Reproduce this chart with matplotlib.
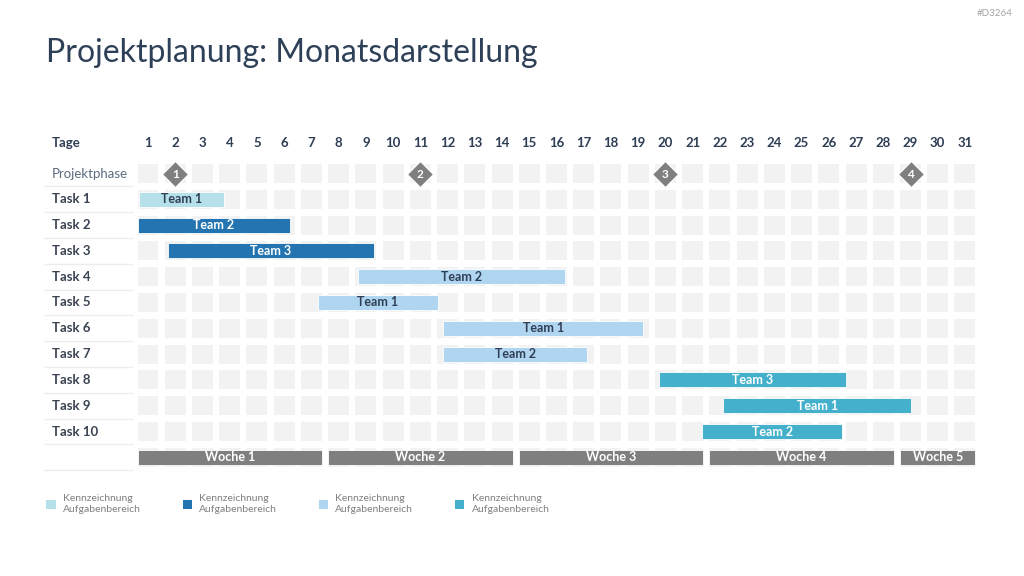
import matplotlib
matplotlib.use("Agg")
import matplotlib.pyplot as plt
from matplotlib.patches import Patch

plt.rcParams['font.family'] = ['Lato', 'DejaVu Sans']

# ---------------- data ----------------
days = list(range(1, 32))
task_labels = ["Task 1", "Task 2", "Task 3", "Task 4", "Task 5",
               "Task 6", "Task 7", "Task 8", "Task 9", "Task 10"]
task_teams = ["Team 1", "Team 2", "Team 3", "Team 2", "Team 1",
              "Team 1", "Team 2", "Team 3", "Team 1", "Team 2"]
task_start = [0.67, 0.63, 1.72, 8.72, 7.23, 11.85, 11.85, 19.75, 22.13, 21.36]
task_end = [3.79, 6.21, 9.30, 16.31, 11.66, 19.19, 17.11, 26.62, 29.02, 26.50]
task_group = [0, 1, 1, 2, 2, 2, 2, 3, 3, 3]
group_colors = ["#B6E1EA", "#2374B0", "#AFD5F0", "#45B0CB"]
group_text = ["#2E3E55", "white", "#2E3E55", "white"]

phase_days = [2, 11, 20, 29]
phase_labels = ["1", "2", "3", "4"]

week_labels = ["Woche 1", "Woche 2", "Woche 3", "Woche 4", "Woche 5"]
week_first_day = [1, 8, 15, 22, 29]
week_last_day = [7, 14, 21, 28, 31]

legend_labels = ["Kennzeichnung\nAufgabenbereich"] * 4

# ---------------- layout ----------------
W, H = 1024, 576
fig = plt.figure(figsize=(W / 100, H / 100), dpi=100)

px_per_day = 27.233
row_px = 25.8
ax_left_px, ax_right_px = 44, 980
ax_top_px, ax_bot_px = 130, 475
ax = fig.add_axes([ax_left_px / W, 1 - ax_bot_px / H,
                   (ax_right_px - ax_left_px) / W, (ax_bot_px - ax_top_px) / H])
ax.set_xlim(1 + (ax_left_px - 148) / px_per_day, 1 + (ax_right_px - 148) / px_per_day)
y_phase_px = 173.5
ax.set_ylim((ax_bot_px - y_phase_px) / row_px, (ax_top_px - y_phase_px) / row_px)
ax.axis("off")

dark = "#2E3E55"
cell_w = 0.771
cell_h = 0.736
half = cell_w / 2

# grid cells: phase row (0), tasks (1..10), week row (11)
for r in range(0, 12):
    ax.bar(days, cell_h, bottom=r - cell_h / 2, width=cell_w, color="#F2F2F2",
           linewidth=0, zorder=1)

# header row
y_head = (143 - y_phase_px) / row_px
for d in days:
    ax.text(d, y_head, str(d), ha="center", va="center", fontsize=9.5,
            fontweight="bold", color=dark)
label_x = 1 + (52 - 148) / px_per_day
ax.text(label_x, y_head, "Tage", ha="left", va="center", fontsize=9.5,
        fontweight="bold", color=dark)
ax.text(label_x, 0, "Projektphase", ha="left", va="center", fontsize=9.5,
        color="#5B6B80")

# row separators in label column
for r in range(0, 12):
    ax.axhline(r + 0.5, xmin=0.001, xmax=0.094, color="#EDEDED", lw=1.0, zorder=1)

# task bars
bar_h = 0.58
for i, lab in enumerate(task_labels):
    r = i + 1
    ax.text(label_x, r, lab, ha="left", va="center", fontsize=9.5,
            fontweight="bold", color="#3B4453")
    g = task_group[i]
    ax.barh(r, task_end[i] - task_start[i], left=task_start[i], height=bar_h,
            color=group_colors[g], edgecolor="white", linewidth=0.6, zorder=3)
    ax.text((task_start[i] + task_end[i]) / 2, r, task_teams[i], ha="center",
            va="center", fontsize=9, fontweight="bold", color=group_text[g], zorder=4)

# phase diamonds
ax.plot(phase_days, [0] * len(phase_days), linestyle="none", marker="D",
        markersize=13.5, color="#7F7F7F", markeredgecolor="white",
        markeredgewidth=0.8, zorder=4)
for d, t in zip(phase_days, phase_labels):
    ax.text(d, 0.02, t, ha="center", va="center", fontsize=8.5,
            fontweight="bold", color="white", zorder=5)

# week bars
for lab, a, b in zip(week_labels, week_first_day, week_last_day):
    left = a - half
    right = b + half
    ax.barh(11, right - left, left=left, height=bar_h, color="#7F7F7F",
            edgecolor="white", linewidth=0.6, zorder=3)
    ax.text((left + right) / 2, 11, lab, ha="center", va="center", fontsize=9,
            fontweight="bold", color="white", zorder=4)

# title and watermark
fig.text(46 / W, 1 - 53 / H, "Projektplanung: Monatsdarstellung", ha="left",
         va="center", fontsize=23, color="#2E4057")
fig.text(1013 / W, 1 - 13 / H, "#D3264", ha="right", va="center", fontsize=7,
         color="#A6A6A6")

# legend
handles = [Patch(facecolor=c, edgecolor="none") for c in group_colors]
leg = fig.legend(handles, legend_labels, ncol=4, loc="upper left",
                 bbox_to_anchor=(38 / W, 1 - 486 / H), frameon=False,
                 fontsize=7.5, handlelength=0.9, handleheight=0.9,
                 handletextpad=0.7, columnspacing=4.0, borderpad=0.3)
for t in leg.get_texts():
    t.set_color("#808080")
    t.set_linespacing(1.3)

fig.savefig("out.png", dpi=100)
